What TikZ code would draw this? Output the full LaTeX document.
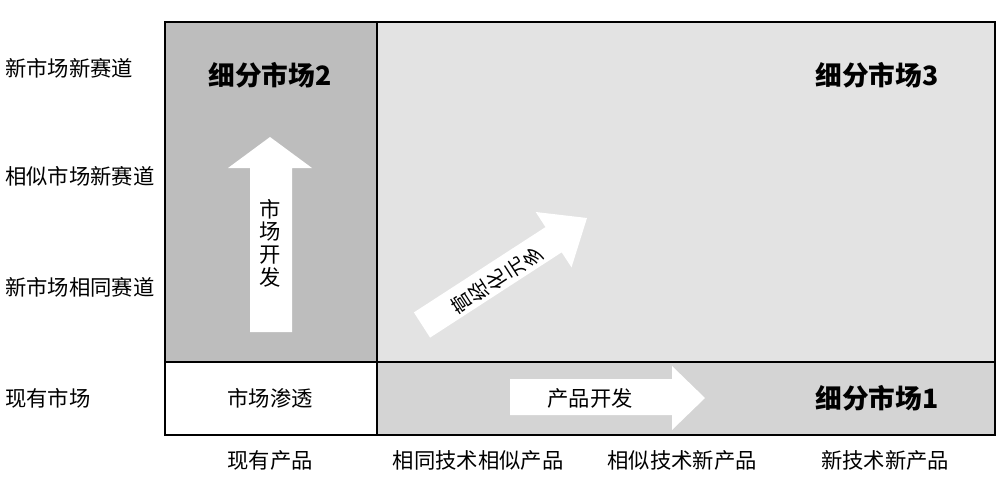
\documentclass[tikz,border=0pt]{standalone}
\usepackage{fontspec}
\setmainfont{Noto Sans CJK SC}
\begin{document}
\begin{tikzpicture}[x=0.75pt,y=-0.75pt,
  lab/.style={font=\fontsize{16}{17}\selectfont,inner sep=0pt},
  ttl/.style={font=\fontsize{20}{22}\selectfont\bfseries,inner sep=0pt},
  arr/.style={fill=white,draw=none}]
\useasboundingbox (0,0) rectangle (1000,497);
\fill[white] (0,0) rectangle (1000,497);
\fill[black!26] (165,22) rectangle (377,362);
\fill[black!11] (377,22) rectangle (995,362);
\fill[black!17] (377,362) rectangle (995,435);
\draw[black,line width=0.8pt] (165,22) rectangle (995,435);
\draw[black,line width=0.8pt] (377,22) -- (377,435);
\draw[black,line width=0.8pt] (165,362) -- (995,362);
% arrows
\fill[arr] (250,332) -- (292,332) -- (292,168) -- (312,168) -- (270,137) -- (228,168) -- (250,168) -- cycle;
\fill[arr] (510,379) -- (672,379) -- (672,366) -- (705,398) -- (672,430) -- (672,415) -- (510,415) -- cycle;
\fill[arr] (430.1,337.6) -- (561.7,252.3) -- (571.5,267.4) -- (587,218) -- (535.7,212.0) -- (545.5,227.1) -- (413.9,312.4) -- cycle;
% texts
\node[ttl] (t2) at (270,75) {细分市场2};
\node[ttl] (t3) at (877,75) {细分市场3};
\node[ttl] (t1) at (877,398) {细分市场1};
\node[lab] (st) at (270,398) {市场渗透};
\node[lab,align=center] (kf) at (270,243) {市\\场\\开\\发};
\node[lab] (cp) at (590,398) {产品开发};
\node[lab,align=center,rotate=123,font=\fontsize{15}{16}\selectfont] (dy) at (497,280) {营\\经\\化\\元\\多};
\node[lab,anchor=west] (r1) at (5,68) {新市场新赛道};
\node[lab,anchor=west] (r2) at (5,176) {相似市场新赛道};
\node[lab,anchor=west] (r3) at (5,287) {新市场相同赛道};
\node[lab,anchor=west] (r4) at (5,398) {现有市场};
\node[lab] (c1) at (270,460) {现有产品};
\node[lab] (c2) at (478,460) {相同技术相似产品};
\node[lab] (c3) at (682,460) {相似技术新产品};
\node[lab] (c4) at (885,460) {新技术新产品};
\end{tikzpicture}
\end{document}
